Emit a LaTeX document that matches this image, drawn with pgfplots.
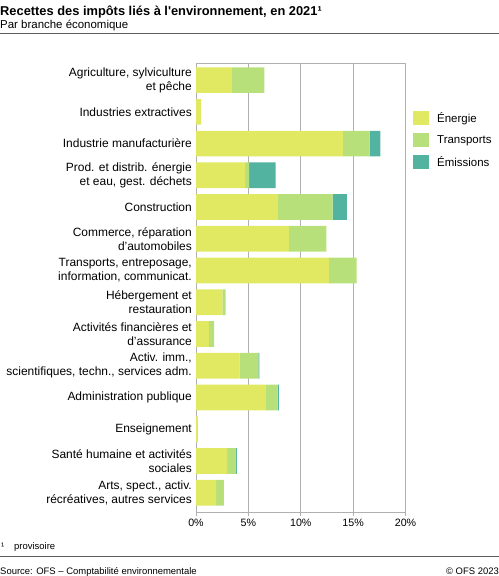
\documentclass[border=0pt]{standalone}
\usepackage{fontspec}
\setmainfont{Liberation Sans}
\usepackage{pgfplots}
\pgfplotsset{compat=1.18}
\usepackage{pgfplotstable}

\definecolor{energie}{HTML}{E1E962}
\definecolor{transp}{HTML}{B8E07A}
\definecolor{emiss}{HTML}{52B3A1}
\definecolor{gridc}{HTML}{B0B0B0}
\definecolor{rulec}{HTML}{606060}

% branche, energie, transports, emissions (% des recettes)
\pgfplotstableread{
idx  ene    tra   emi
0    3.43   3.09  0
1    0.48   0     0
2    14.03  2.54  1.02
3    4.68   0.38  2.54
4    7.82   5.22  1.37
5    8.87   3.57  0
6    12.69  2.64  0
7    2.51   0.32  0
8    1.24   0.48  0
9    4.17   1.78  0.09
10   6.68   1.11  0.13
11   0.19   0     0
12   2.96   0.86  0.09
13   1.91   0.76  0
}\recettes

\begin{document}
\begin{tikzpicture}
\path[use as bounding box] (0bp,0bp) rectangle (499bp,-576bp);

\node[anchor=base west, inner sep=0pt, font=\bfseries\fontsize{12.9}{15}\selectfont]
  at (0bp,-15bp) {Recettes des impôts liés à l\textquotesingle environnement, en 2021¹};
\node[anchor=base west, inner sep=0pt, font=\fontsize{11.5}{14}\selectfont]
  at (0bp,-28bp) {Par branche économique};
\draw[line width=0.9bp, rulec] (0bp,-33.3bp) -- (499bp,-33.3bp);

\begin{axis}[
  at={(196bp,-512.7bp)}, anchor=south west,
  scale only axis, width=209.5bp, height=449.4bp,
  xbar stacked, bar width=25.7bp,
  xmin=0, xmax=20,
  ymin=-0.53, ymax=13.63, y dir=reverse,
  xtick={0,5,10,15,20},
  xticklabel={\pgfmathprintnumber{\tick}\%},
  /pgf/number format/assume math mode=true,
  ytick={0,...,13},
  yticklabels={
    {Agriculture, sylviculture\\et pêche},
    {Industries extractives},
    {Industrie manufacturière},
    {Prod. et distrib. énergie\\et eau, gest. déchets},
    {Construction},
    {Commerce, réparation\\d’automobiles},
    {Transports, entreposage,\\information, communicat.},
    {Hébergement et\\restauration},
    {Activités financières et\\d’assurance},
    {Activ. imm.,\\scientifiques, techn., services adm.},
    {Administration publique},
    {Enseignement},
    {Santé humaine et activités\\sociales},
    {Arts, spect., activ.\\récréatives, autres services}},
  yticklabel style={font=\fontsize{12}{14}\selectfont, align=right, inner sep=1bp},
  xticklabel style={font=\fontsize{10.7}{12}\selectfont},
  xmajorgrids, grid style={gridc, line width=0.8bp},
  axis line style={gridc, line width=0.8bp},
  tick align=outside, xtick pos=bottom, ytick pos=left,
  major tick length=3bp,
  xtick style={gridc, line width=0.8bp},
  ytick style={draw=none},
  legend style={draw=none, fill=none, at={(1,0.8945)}, anchor=north west,
    xshift=7.5bp, inner sep=0pt, row sep=8bp, column sep=8bp,
    font=\fontsize{11.5}{14}\selectfont,
    nodes={inner sep=0pt}},
  legend cell align=left,
  legend image code/.code={\fill[#1] (0bp,-7bp) rectangle (16bp,7bp);},
]
\addplot[fill=energie, draw=none] table[x=ene, y=idx] {\recettes};
\addplot[fill=transp, draw=none] table[x=tra, y=idx] {\recettes};
\addplot[fill=emiss, draw=none] table[x=emi, y=idx] {\recettes};
\legend{Énergie, Transports, Émissions}
\end{axis}

\node[anchor=base west, inner sep=0pt, font=\fontsize{9.5}{11}\selectfont]
  at (1bp,-549.5bp) {¹};
\node[anchor=base west, inner sep=0pt, font=\fontsize{9.5}{11}\selectfont]
  at (14bp,-549.5bp) {provisoire};
\draw[line width=0.9bp, rulec] (0bp,-556.7bp) -- (499bp,-556.7bp);
\node[anchor=base west, inner sep=0pt, font=\fontsize{9.5}{11}\selectfont]
  at (0bp,-574bp) {Source: OFS – Comptabilité environnementale};
\node[anchor=base east, inner sep=0pt, font=\fontsize{9.5}{11}\selectfont]
  at (499bp,-574bp) {© OFS 2023};
\end{tikzpicture}
\end{document}
